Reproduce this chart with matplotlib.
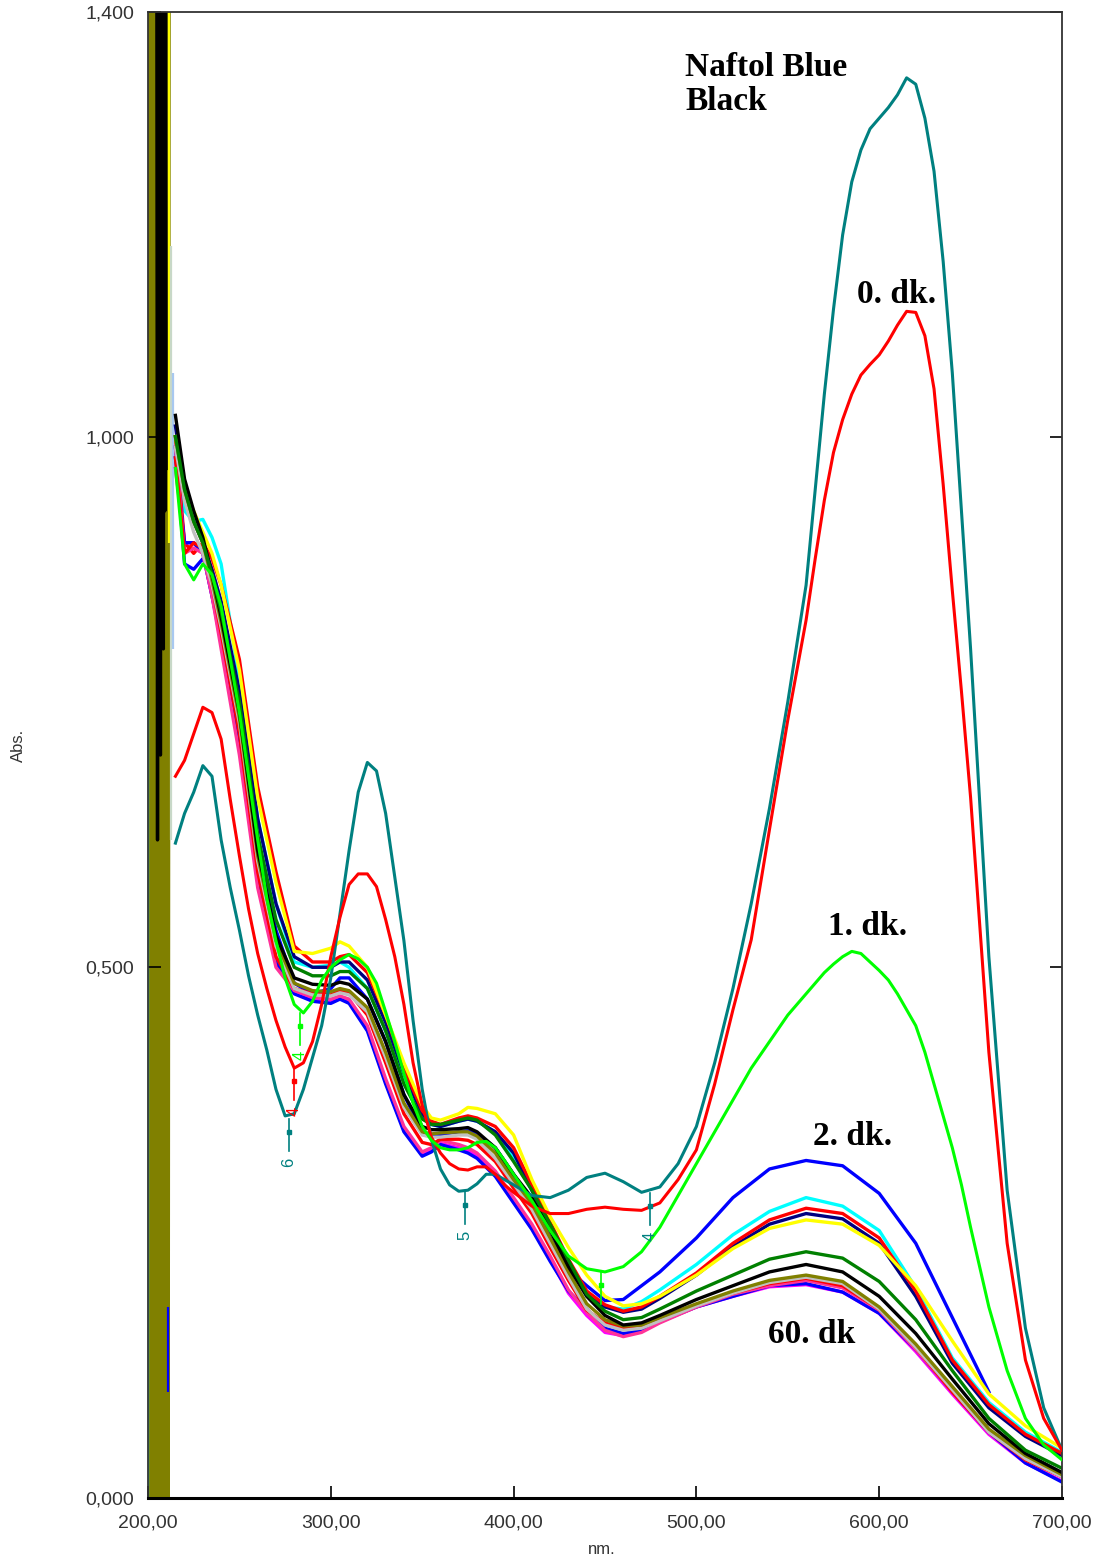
import numpy as np
import matplotlib
matplotlib.use("Agg")
import matplotlib.pyplot as plt

# wavelength grids (nm)
wl_fine = [215, 220, 225, 230, 235, 240, 245, 250, 255, 260, 265, 270, 275, 280, 285,
           290, 295, 300, 305, 310, 315, 320, 325, 330, 335, 340, 345, 350, 355, 360,
           365, 370, 375, 380, 385, 390, 395, 400,
           410, 420, 430, 440, 450, 460, 470, 480, 490, 500, 510, 520, 530, 540, 550,
           555, 560, 565, 570, 575, 580, 585, 590, 595, 600, 605, 610, 615, 620, 625,
           630, 635, 640, 645, 650,
           660, 670, 680, 690, 700]

wl_group = [215, 220, 225, 230, 235, 240, 250, 260, 270, 280, 290, 300, 305, 310, 320,
            330, 340, 350, 355, 360, 370, 375, 380, 390, 400, 410, 420, 430, 440, 450,
            460, 470, 480, 500, 520, 540, 560, 580, 600, 620, 640, 660, 680, 700]

# strongly absorbing early spectra
abs_teal = [0.617, 0.645, 0.665, 0.69, 0.68, 0.62, 0.575, 0.535, 0.492, 0.455, 0.422, 0.385, 0.36, 0.362, 0.385,
            0.415, 0.445, 0.49, 0.55, 0.61, 0.665, 0.693, 0.685, 0.645, 0.585, 0.525, 0.45, 0.385, 0.338, 0.31,
            0.295, 0.289, 0.29, 0.296, 0.305, 0.305, 0.3, 0.295,
            0.285, 0.283, 0.29, 0.302, 0.306, 0.298, 0.288, 0.293, 0.315, 0.35, 0.41, 0.48, 0.56, 0.65, 0.75,
            0.805, 0.86, 0.95, 1.04, 1.12, 1.19, 1.24, 1.27, 1.29, 1.30, 1.31, 1.322, 1.338, 1.332, 1.30,
            1.25, 1.165, 1.06, 0.93, 0.80,
            0.51, 0.29, 0.16, 0.085, 0.045]

abs_red0 = [0.68, 0.695, 0.72, 0.745, 0.74, 0.715, 0.658, 0.605, 0.555, 0.513, 0.48, 0.45, 0.425, 0.405, 0.41,
            0.43, 0.465, 0.51, 0.547, 0.578, 0.588, 0.588, 0.576, 0.545, 0.51, 0.465, 0.41, 0.37, 0.34, 0.325,
            0.315, 0.31, 0.309, 0.312, 0.312, 0.305, 0.295, 0.288,
            0.275, 0.268, 0.268, 0.272, 0.274, 0.272, 0.271, 0.278, 0.3, 0.328, 0.39, 0.46, 0.526, 0.63, 0.733,
            0.78, 0.827, 0.885, 0.94, 0.985, 1.016, 1.04, 1.058, 1.068, 1.077, 1.09, 1.105, 1.118, 1.117, 1.095,
            1.045, 0.955, 0.855, 0.76, 0.66,
            0.42, 0.24, 0.13, 0.075, 0.045]

abs_green1 = [0.97, 0.88, 0.865, 0.88, 0.87, 0.84, 0.79, 0.74, 0.68, 0.62, 0.565, 0.525, 0.49, 0.465, 0.457,
              0.468, 0.488, 0.5, 0.507, 0.512, 0.508, 0.5, 0.485, 0.458, 0.43, 0.4, 0.372, 0.35, 0.337, 0.33,
              0.328, 0.328, 0.33, 0.335, 0.336, 0.33, 0.318, 0.305,
              0.28, 0.252, 0.228, 0.216, 0.213, 0.218, 0.232, 0.255, 0.285, 0.315, 0.345, 0.375, 0.405, 0.43, 0.455,
              0.465, 0.475, 0.485, 0.495, 0.503, 0.51, 0.515, 0.513, 0.505, 0.497, 0.488, 0.475, 0.46, 0.445, 0.42,
              0.39, 0.36, 0.33, 0.295, 0.255,
              0.18, 0.12, 0.075, 0.05, 0.036]

# later spectra (2. dk ... 60. dk)
abs_blue2 = [0.99, 0.88, 0.875, 0.885, 0.87, 0.84, 0.75, 0.62, 0.535, 0.485, 0.475, 0.48, 0.49, 0.49, 0.47,
             0.43, 0.38, 0.345, 0.34, 0.342, 0.345, 0.346, 0.343, 0.33, 0.305, 0.278, 0.245, 0.215, 0.2, 0.186,
             0.187, 0.2, 0.213, 0.245, 0.283, 0.31, 0.318, 0.313, 0.287, 0.24, 0.17, 0.1, np.nan, np.nan]
abs_cyan = [1.0, 0.93, 0.92, 0.922, 0.905, 0.88, 0.77, 0.64, 0.56, 0.505, 0.5, 0.502, 0.505, 0.5, 0.48,
            0.44, 0.395, 0.36, 0.352, 0.35, 0.355, 0.357, 0.355, 0.345, 0.32, 0.29, 0.255, 0.22, 0.19, 0.18,
            0.178, 0.185, 0.196, 0.22, 0.248, 0.27, 0.283, 0.275, 0.252, 0.198, 0.132, 0.09, 0.062, 0.043]
abs_red2 = [1.0, 0.9, 0.89, 0.9, 0.885, 0.86, 0.79, 0.67, 0.59, 0.52, 0.505, 0.505, 0.51, 0.512, 0.495,
            0.455, 0.405, 0.365, 0.355, 0.352, 0.358, 0.36, 0.358, 0.35, 0.33, 0.295, 0.26, 0.225, 0.195, 0.182,
            0.176, 0.18, 0.19, 0.212, 0.24, 0.262, 0.273, 0.268, 0.245, 0.195, 0.13, 0.088, 0.06, 0.042]
abs_navy = [1.01, 0.95, 0.92, 0.9, 0.875, 0.845, 0.76, 0.64, 0.56, 0.51, 0.5, 0.5, 0.505, 0.505, 0.488,
            0.448, 0.4, 0.362, 0.352, 0.35, 0.355, 0.357, 0.355, 0.345, 0.325, 0.29, 0.256, 0.222, 0.193, 0.18,
            0.175, 0.178, 0.188, 0.21, 0.237, 0.258, 0.268, 0.263, 0.24, 0.19, 0.127, 0.085, 0.058, 0.04]
abs_yellow = [1.0, 0.95, 0.93, 0.91, 0.89, 0.86, 0.78, 0.66, 0.58, 0.515, 0.513, 0.518, 0.524, 0.52, 0.5,
              0.455, 0.41, 0.37, 0.358, 0.356, 0.362, 0.368, 0.367, 0.362, 0.342, 0.3, 0.265, 0.236, 0.21, 0.19,
              0.181, 0.183, 0.19, 0.21, 0.235, 0.254, 0.262, 0.258, 0.238, 0.2, 0.148, 0.098, 0.068, 0.047]
abs_dgreen = [1.0, 0.95, 0.92, 0.9, 0.87, 0.835, 0.75, 0.625, 0.545, 0.5, 0.492, 0.492, 0.496, 0.496, 0.48,
              0.44, 0.39, 0.357, 0.352, 0.352, 0.356, 0.358, 0.356, 0.342, 0.317, 0.29, 0.258, 0.224, 0.192, 0.176,
              0.168, 0.17, 0.178, 0.195, 0.21, 0.225, 0.232, 0.226, 0.204, 0.168, 0.12, 0.075, 0.045, 0.028]
abs_black = [1.02, 0.96, 0.93, 0.905, 0.87, 0.83, 0.74, 0.61, 0.53, 0.49, 0.484, 0.483, 0.486, 0.484, 0.47,
             0.43, 0.38, 0.35, 0.347, 0.347, 0.348, 0.349, 0.345, 0.33, 0.305, 0.283, 0.252, 0.218, 0.19, 0.172,
             0.163, 0.165, 0.172, 0.187, 0.2, 0.213, 0.22, 0.213, 0.19, 0.155, 0.112, 0.07, 0.042, 0.024]
abs_olive = [1.0, 0.95, 0.92, 0.9, 0.865, 0.825, 0.735, 0.605, 0.525, 0.485, 0.478, 0.477, 0.48, 0.478, 0.462,
             0.42, 0.372, 0.345, 0.343, 0.344, 0.345, 0.345, 0.341, 0.325, 0.3, 0.277, 0.245, 0.213, 0.183, 0.168,
             0.162, 0.163, 0.17, 0.183, 0.195, 0.205, 0.21, 0.204, 0.18, 0.145, 0.105, 0.065, 0.04, 0.022]
abs_silver = [0.99, 0.94, 0.91, 0.89, 0.86, 0.82, 0.73, 0.6, 0.52, 0.48, 0.474, 0.473, 0.476, 0.474, 0.458,
              0.415, 0.368, 0.342, 0.34, 0.34, 0.342, 0.342, 0.338, 0.32, 0.296, 0.272, 0.24, 0.208, 0.178, 0.163,
              0.158, 0.16, 0.167, 0.181, 0.193, 0.203, 0.208, 0.202, 0.178, 0.142, 0.102, 0.062, 0.037, 0.02]
abs_red3 = [0.98, 0.89, 0.9, 0.895, 0.86, 0.815, 0.72, 0.59, 0.51, 0.48, 0.475, 0.474, 0.478, 0.476, 0.455,
            0.41, 0.362, 0.335, 0.333, 0.338, 0.338, 0.337, 0.333, 0.317, 0.292, 0.268, 0.236, 0.205, 0.177, 0.165,
            0.16, 0.162, 0.168, 0.182, 0.193, 0.202, 0.207, 0.2, 0.178, 0.142, 0.1, 0.062, 0.036, 0.02]
abs_pink = [0.99, 0.89, 0.895, 0.89, 0.85, 0.8, 0.7, 0.575, 0.5, 0.478, 0.472, 0.47, 0.473, 0.47, 0.445,
            0.395, 0.35, 0.326, 0.33, 0.337, 0.333, 0.33, 0.325, 0.308, 0.283, 0.258, 0.228, 0.196, 0.175, 0.158,
            0.152, 0.156, 0.165, 0.18, 0.192, 0.2, 0.205, 0.198, 0.177, 0.14, 0.1, 0.063, 0.036, 0.02]
abs_magenta = [0.97, 0.9, 0.9, 0.89, 0.85, 0.805, 0.71, 0.58, 0.505, 0.478, 0.47, 0.468, 0.472, 0.468, 0.443,
               0.392, 0.347, 0.323, 0.327, 0.334, 0.33, 0.327, 0.322, 0.305, 0.28, 0.255, 0.225, 0.193, 0.172, 0.156,
               0.153, 0.157, 0.166, 0.18, 0.19, 0.199, 0.201, 0.194, 0.174, 0.138, 0.098, 0.06, 0.033, 0.016]
abs_blue3 = [0.98, 0.9, 0.9, 0.89, 0.85, 0.81, 0.715, 0.585, 0.505, 0.475, 0.468, 0.466, 0.47, 0.466, 0.44,
             0.39, 0.345, 0.322, 0.326, 0.333, 0.328, 0.325, 0.32, 0.303, 0.278, 0.253, 0.223, 0.195, 0.178, 0.16,
             0.155, 0.158, 0.166, 0.18, 0.19, 0.2, 0.202, 0.194, 0.174, 0.14, 0.1, 0.062, 0.033, 0.015]

# detector noise at the start of the scan (200-212 nm)
noise_wl = [200.5, 201.2, 201.9, 202.6, 203.3, 204.0, 204.7, 205.4, 206.1, 206.8, 207.5,
            208.2, 208.9, 209.6, 210.3, 211.0, 211.6]
noise_olive = [1.5, -0.1, 1.5, -0.1, 1.5, -0.1, 1.5, -0.1, 1.5, -0.1, 1.5,
               -0.1, 1.5, -0.1, 1.5, -0.1, 1.5]
noise_black_wl = [204.8, 205.2, 205.6, 206.0, 206.4, 206.8, 207.2, 207.6, 208.0, 208.4,
                  208.8, 209.2, 209.6, 210.0]
noise_black = [1.5, 0.62, 1.5, 0.95, 1.5, 0.7, 1.5, 0.92, 1.5, 0.8, 1.5, 0.93, 1.5, 0.97]
spike_wl = [200.0, 211.6, 212.5, 213.4, 210.8]
spike_top = [0.95, 1.5, 1.18, 1.06, 0.18]
spike_bottom = [0.0, 0.9, 0.62, 0.8, 0.1]
spike_colors = ["#00FFFF", "#FFFF00", "#C8D8C8", "#A8C8F0", "#0000FF"]

# peak-pick markers (wl, abs, label, colour)
mark_wl = [277, 373.5, 474.5, 280, 283, 448]
mark_abs = [0.357, 0.288, 0.287, 0.405, 0.457, 0.213]
mark_txt = ["6", "5", "4", "4", "4", ""]
mark_col = ["#008080", "#008080", "#008080", "#FF0000", "#00FF00", "#00FF00"]

fine_series = [("#008080", abs_teal), ("#FF0000", abs_red0), ("#00FF00", abs_green1)]
group_series = [("#0000FF", abs_blue2), ("#00FFFF", abs_cyan), ("#000080", abs_navy),
                ("#FF0000", abs_red2), ("#FFFF00", abs_yellow), ("#FF00FF", abs_magenta),
                ("#0000FF", abs_blue3), ("#FF3399", abs_pink), ("#FF0000", abs_red3),
                ("#C0C0C0", abs_silver), ("#808000", abs_olive), ("#000000", abs_black),
                ("#008000", abs_dgreen)]

fig = plt.figure(figsize=(10.98, 15.64), dpi=100)
ax = fig.add_axes([0.1348, 0.0422, 0.8324, 0.9501])

ax.plot(noise_wl, noise_olive, color="#808000", lw=2.4, zorder=1)
ax.plot(noise_black_wl, noise_black, color="#000000", lw=2.4, zorder=1)
ax.vlines(spike_wl, spike_bottom, spike_top, colors=spike_colors, lw=1.6, zorder=1)

for col, ys in fine_series:
    ax.plot(wl_fine, ys, color=col, lw=2.2, zorder=3)
for col, ys in group_series:
    ax.plot(wl_group, ys, color=col, lw=2.4, zorder=2)

for x, y, t, c in zip(mark_wl, mark_abs, mark_txt, mark_col):
    ax.plot([x, x], [y, y - 0.03], color=c, lw=1.2, zorder=4)
    ax.plot([x], [y - 0.012], marker="s", ms=3, color=c, zorder=4)
    if t:
        ax.text(x, y - 0.036, t, color=c, fontsize=12, rotation=90,
                ha="center", va="top", family="Liberation Sans", zorder=4)

serif = dict(family="Liberation Serif", fontweight="bold", color="black")
ax.text(494, 1.362, "Naftol Blue\nBlack", fontsize=24, va="top", ha="left",
        linespacing=1.1, **serif)
ax.text(588, 1.126, "0. dk.", fontsize=24, va="baseline", ha="left", **serif)
ax.text(572, 0.530, "1. dk.", fontsize=24, va="baseline", ha="left", **serif)
ax.text(564, 0.333, "2. dk.", fontsize=24, va="baseline", ha="left", **serif)
ax.text(539, 0.146, "60. dk", fontsize=24, va="baseline", ha="left", **serif)

ax.set_xlim(200, 700)
ax.set_ylim(0, 1.4)
xt = [200, 300, 400, 500, 600, 700]
yt = [0.0, 0.5, 1.0, 1.4]
ax.set_xticks(xt)
ax.set_xticklabels([f"{v},00" for v in xt])
ax.set_yticks(yt)
ax.set_yticklabels([f"{v:.3f}".replace(".", ",") for v in yt])
ax.tick_params(direction="in", length=9, width=1.2, right=True, top=False,
               labelsize=14, labelcolor="#333333", pad=12)
ax.tick_params(axis="y", pad=10)
for lab in ax.get_xticklabels() + ax.get_yticklabels():
    lab.set_family("Liberation Sans")

for s in ax.spines.values():
    s.set_color("#333333")
    s.set_linewidth(1.3)
ax.spines["bottom"].set_linewidth(2.2)
ax.spines["bottom"].set_color("black")

fig.text(602 / 1098, 1 - 1550 / 1564, "nm.", ha="center", va="center",
         fontsize=12, color="#333333", family="Liberation Sans")
fig.text(18 / 1098, 1 - 745 / 1564, "Abs.", ha="center", va="center", rotation=90,
         fontsize=12, color="#333333", family="Liberation Sans")

fig.savefig("out.png", dpi=100)
